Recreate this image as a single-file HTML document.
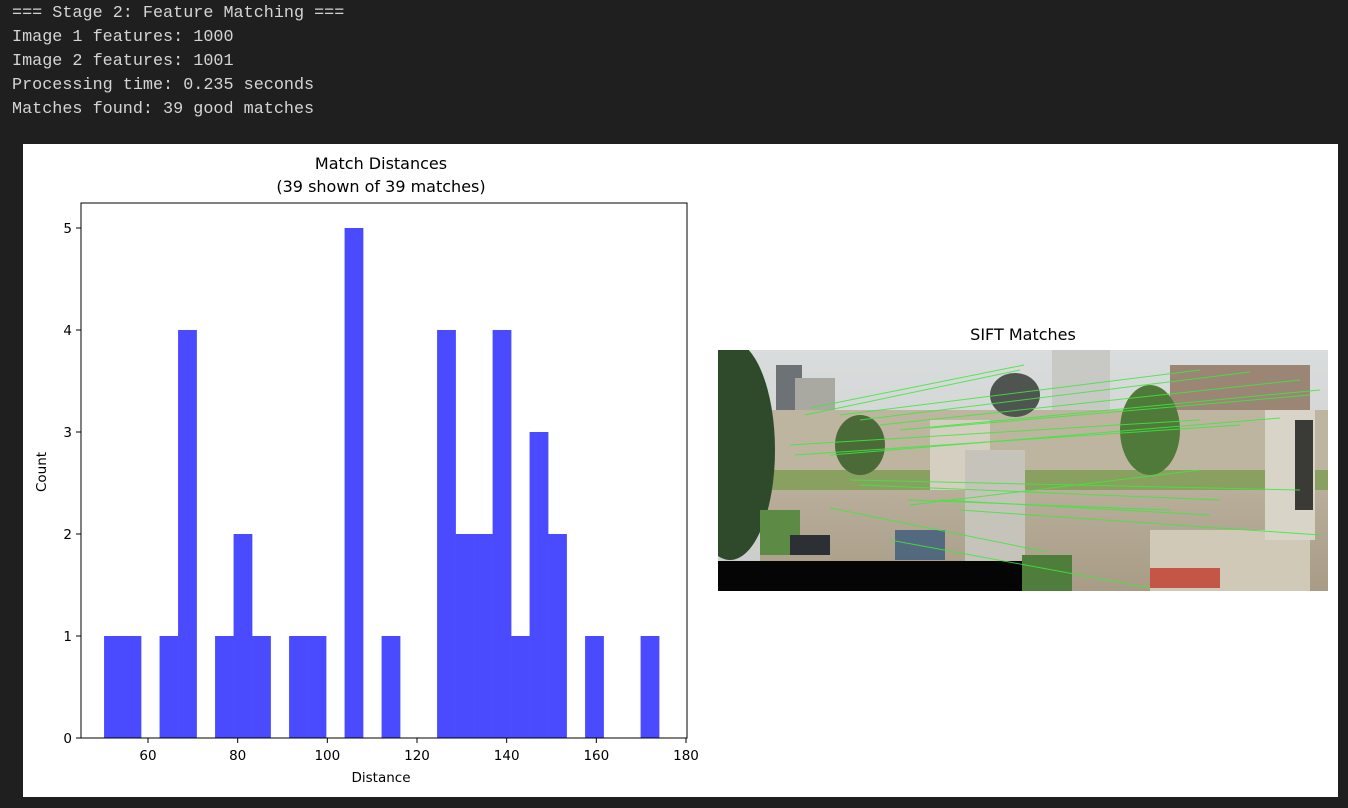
<!DOCTYPE html>
<html><head><meta charset="utf-8"><style>
body{margin:0;width:1348px;height:808px;background:#1f1f1f;overflow:hidden;position:relative;font-family:"Liberation Sans",sans-serif}
#log{position:absolute;left:12px;top:2px;color:#d4d4d4;font-family:"Liberation Mono",monospace;font-size:16.8px;line-height:24px;white-space:pre}
#panel{position:absolute;left:23px;top:144px;width:1315px;height:653px;background:#fff}
svg text{font-family:"DejaVu Sans","Liberation Sans",sans-serif}
</style></head><body>
<div id="log">=== Stage 2: Feature Matching ===
Image 1 features: 1000
Image 2 features: 1001
Processing time: 0.235 seconds
Matches found: 39 good matches</div>
<div id="panel"></div>
<svg id="chart" width="1348" height="808" style="position:absolute;left:0;top:0">
<defs>
<linearGradient id="sky" x1="0" y1="0" x2="0" y2="1"><stop offset="0" stop-color="#d9dcdc"/><stop offset="1" stop-color="#c9ccc9"/></linearGradient>
<linearGradient id="ground" x1="0" y1="0" x2="0" y2="1"><stop offset="0" stop-color="#b8ae9a"/><stop offset="1" stop-color="#a89c86"/></linearGradient>
<clipPath id="pc"><rect x="718" y="350" width="610" height="241"/></clipPath>
</defs>
<g id="hist"></g>
<text x="1023" y="340" font-size="16" text-anchor="middle" fill="#000">SIFT Matches</text>
<g id="photo" clip-path="url(#pc)">
<rect x="718" y="350" width="610" height="241" fill="url(#sky)"/>
<rect x="776" y="365" width="26" height="50" fill="#6d7276"/>
<rect x="795" y="378" width="40" height="60" fill="#a9a9a2"/>
<rect x="1052" y="350" width="58" height="60" fill="#c8c8c4"/>
<rect x="1170" y="365" width="140" height="45" fill="#9b8575"/>
<rect x="750" y="410" width="578" height="80" fill="#bdb5a0"/>
<ellipse cx="1015" cy="395" rx="25" ry="22" fill="#4f5450"/>
<rect x="750" y="470" width="578" height="30" fill="#8aa060"/>
<rect x="760" y="490" width="568" height="101" fill="url(#ground)"/>
<rect x="930" y="420" width="60" height="70" fill="#d4cfc0"/>
<rect x="965" y="450" width="60" height="140" fill="#c6c3ba"/>
<rect x="1150" y="530" width="160" height="61" fill="#d0c9b8"/>
<rect x="1265" y="410" width="50" height="130" fill="#d8d4c8"/>
<rect x="1295" y="420" width="18" height="90" fill="#3a3a36"/>
<ellipse cx="730" cy="450" rx="45" ry="110" fill="#2e4a2a"/>
<ellipse cx="1150" cy="430" rx="30" ry="45" fill="#4f7a3a"/>
<ellipse cx="860" cy="445" rx="25" ry="30" fill="#4a6a38"/>
<rect x="760" y="510" width="40" height="45" fill="#5d8a45"/>
<rect x="1022" y="555" width="50" height="36" fill="#4f7d3c"/>
<rect x="1150" y="568" width="70" height="20" fill="#c0392b" opacity="0.8"/>
<rect x="895" y="530" width="50" height="30" fill="#3b5a7a" opacity="0.8"/>
<rect x="790" y="535" width="40" height="20" fill="#2c3034"/>
<rect x="718" y="561" width="304" height="30" fill="#050505"/>
<g stroke="#3ee83e" stroke-width="1" opacity="0.85">
<line x1="810" y1="408" x2="1024" y2="365"/><line x1="805" y1="415" x2="1020" y2="370"/>
<line x1="840" y1="415" x2="1200" y2="370"/><line x1="860" y1="420" x2="1250" y2="372"/>
<line x1="880" y1="425" x2="1300" y2="380"/><line x1="900" y1="430" x2="1320" y2="390"/>
<line x1="930" y1="428" x2="1310" y2="395"/><line x1="790" y1="445" x2="1200" y2="420"/>
<line x1="795" y1="455" x2="1240" y2="425"/><line x1="830" y1="455" x2="1280" y2="418"/>
<line x1="850" y1="480" x2="1300" y2="490"/><line x1="860" y1="485" x2="1220" y2="500"/>
<line x1="908" y1="500" x2="1170" y2="510"/><line x1="940" y1="500" x2="1210" y2="515"/>
<line x1="830" y1="508" x2="1047" y2="552"/><line x1="890" y1="540" x2="1150" y2="588"/>
<line x1="910" y1="505" x2="1200" y2="470"/><line x1="960" y1="510" x2="1320" y2="535"/>
</g>
</g>
</svg>
<script>
const binStart = 50.2;
const binEnd = 174.0;
const counts = [1,1,0,1,4,0,1,2,1,0,1,1,0,5,0,1,0,0,4,2,2,4,1,3,2,0,1,0,0,1];
const xTicks = [60,80,100,120,140,160,180];
const yTicks = [0,1,2,3,4,5];
const NS='http://www.w3.org/2000/svg';
const g=document.getElementById('hist');
const L=81,R=687,T=203,B=738;
const xs=v=>148+(v-60)*(686-148)/120;
const ys=v=>738-v*102;
function mk(t,a){const e=document.createElementNS(NS,t);for(const k in a)e.setAttribute(k,a[k]);g.appendChild(e);return e;}
const w=(binEnd-binStart)/counts.length;
counts.forEach((c,i)=>{
  if(!c)return;
  const x0=xs(binStart+i*w),x1=xs(binStart+(i+1)*w);
  const r=mk('rect',{x:x0,y:ys(c),width:x1-x0+0.3,height:ys(0)-ys(c),fill:'#4a4aff'});
  
  
});
const f=mk('rect',{x:L,y:T,width:R-L,height:B-T,fill:'none',stroke:'#000','stroke-width':1});


xTicks.forEach(v=>{
  mk('line',{x1:xs(v),x2:xs(v),y1:B,y2:B+5,stroke:'#000'});
  const t=mk('text',{x:xs(v),y:B+22,'font-size':13.5,'text-anchor':'middle'});t.textContent=v;
  
  
});
yTicks.forEach(v=>{
  mk('line',{x1:L-5,x2:L,y1:ys(v),y2:ys(v),stroke:'#000'});
  const t=mk('text',{x:L-9,y:ys(v)+5,'font-size':13.5,'text-anchor':'end'});t.textContent=v;
  
  
});
let t=mk('text',{x:381,y:782,'font-size':13.5,'text-anchor':'middle'});t.textContent='Distance';


t=mk('text',{x:46,y:472,'font-size':13.5,'text-anchor':'middle',transform:'rotate(-90 46 472)'});t.textContent='Count';


t=mk('text',{x:381,y:169,'font-size':16,'text-anchor':'middle'});t.textContent='Match Distances';


t=mk('text',{x:381,y:192,'font-size':16,'text-anchor':'middle'});t.textContent='(39 shown of 39 matches)';


</script>
</body></html>
